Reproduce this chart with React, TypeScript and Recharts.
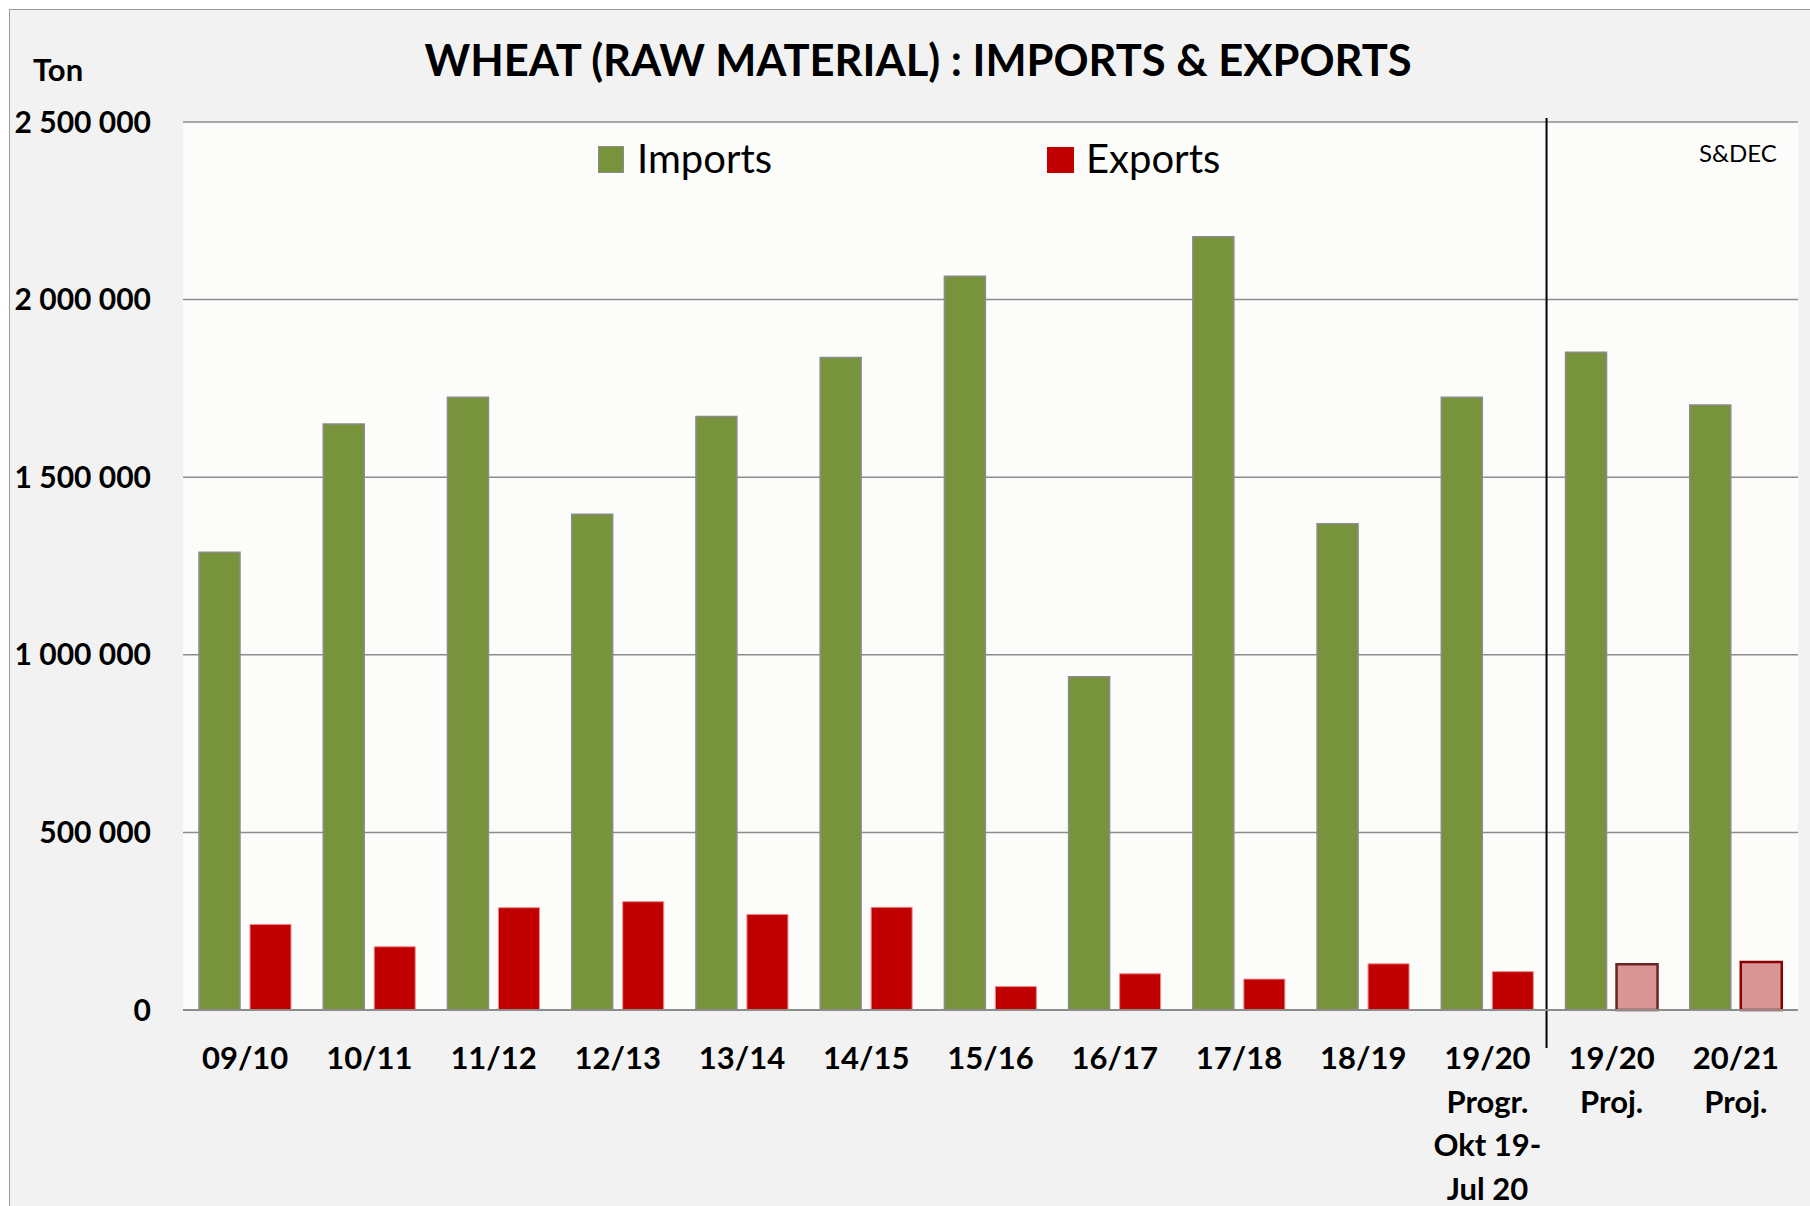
import React from "react";
import { BarChart, Bar, XAxis, YAxis, CartesianGrid, Cell, Legend, ReferenceLine } from "recharts";

const CATEGORIES = [
    '09/10', '10/11', '11/12', '12/13', '13/14', '14/15', '15/16', '16/17', '17/18', '18/19',
    '19/20\nProgr.\nOkt 19-\nJul 20', '19/20\nProj.', '20/21\nProj.',
];
const IMPORTS = [1289000, 1650000, 1725000, 1396000, 1671000, 1837000, 2066000, 938000, 2177000, 1369000, 1725000, 1852000, 1703000];
const EXPORTS = [241000, 178000, 288000, 305000, 269000, 289000, 66000, 102000, 87000, 130000, 108000, 129000, 135000];
// projections are drawn in a lighter red with a dark outline
const PROJECTED = [false, false, false, false, false, false, false, false, false, false, false, true, true];
const Y_TICKS = [0, 500000, 1000000, 1500000, 2000000, 2500000];

const FONT = "Lato, 'Open Sans', sans-serif";
const GREEN = '#77933c';
const RED = '#c00000';

const data = CATEGORIES.map((cat, i) => ({
    cat,
    imports: IMPORTS[i],
    exports: EXPORTS[i],
    projected: PROJECTED[i],
}));

const fmt = (v: number) => String(v).replace(/\B(?=(\d{3})+(?!\d))/g, ' ');

const XTick = ({ x, y, payload }: any) => {
    const lines = String(payload.value).split('\n');
    return (
        <text x={x} y={y} textAnchor="middle" fontFamily={FONT} fontWeight={700} fontSize={31} fill="#000">
            {lines.map((l, i) => (
                <tspan key={i} x={x} dy={i === 0 ? 59 : 43.5}>{l}</tspan>
            ))}
        </text>
    );
};

const LEGEND_SPOTS: Record<string, any> = {
    Imports: { box: { left: 598, top: 146, width: 26, height: 27 }, textLeft: 637, border: true },
    Exports: { box: { left: 1047, top: 147, width: 27, height: 26 }, textLeft: 1086, border: false },
};

const LegendContent = ({ payload }: any) => {
    return (
        <div style={{ position: 'relative', width: 1810, height: 200 }}>
            {(payload || []).map((entry: any, i: number) => {
                const s = LEGEND_SPOTS[entry.value];
                if (!s) return null;
                return (
                    <React.Fragment key={`legend-${i}`}>
                        <div
                            style={{
                                position: 'absolute',
                                ...s.box,
                                boxSizing: 'border-box',
                                background: entry.color,
                                border: s.border ? '1.5px solid #8c8c8c' : 'none',
                            }}
                        />
                        <span
                            style={{
                                position: 'absolute',
                                left: s.textLeft,
                                top: 138,
                                fontFamily: FONT,
                                fontSize: 40,
                                lineHeight: '40px',
                                color: '#000',
                                whiteSpace: 'nowrap',
                            }}
                        >
                            {entry.value}
                        </span>
                    </React.Fragment>
                );
            })}
        </div>
    );
};

const Divider = (p: any) => {
    const top = Math.min(p.y1, p.y2);
    const bottom = Math.max(p.y1, p.y2);
    return <line x1={p.x1 - 3} x2={p.x1 - 3} y1={top - 4} y2={bottom + 38} stroke="#000" strokeWidth={2} />;
};

export default function App() {
    return (
        <div style={{ position: 'absolute', left: 0, top: 0, width: 1810, height: 1206, background: '#fff', overflow: 'hidden' }}>
            <div
                style={{
                    position: 'absolute',
                    left: 9,
                    top: 9,
                    width: 1830,
                    height: 1230,
                    background: '#f2f2f2',
                    borderLeft: '1.5px solid #9a9a9a',
                    borderTop: '1.5px solid #9a9a9a',
                }}
            />
            <div style={{ position: 'absolute', left: 0, top: 0 }}>
                <BarChart
                    width={1810}
                    height={1206}
                    data={data}
                    margin={{ top: 122, right: 12, bottom: 0, left: 0 }}
                    barGap={10}
                    barSize={41}
                >
                    <CartesianGrid vertical={false} stroke="#8c8c8c" strokeWidth={1.5} fill="#fcfcfa" fillOpacity={1} />
                    <XAxis
                        dataKey="cat"
                        height={196}
                        interval={0}
                        tickLine={false}
                        tickSize={0}
                        tickMargin={0}
                        axisLine={{ stroke: '#8c8c8c', strokeWidth: 2 }}
                        tick={<XTick />}
                    />
                    <YAxis
                        width={183}
                        domain={[0, 2500000]}
                        ticks={Y_TICKS}
                        tickFormatter={fmt}
                        axisLine={false}
                        tickLine={false}
                        tickSize={0}
                        tickMargin={32}
                        tick={{ fontFamily: FONT, fontWeight: 700, fontSize: 30, fill: '#000' }}
                    />
                    <Legend
                        content={<LegendContent />}
                        verticalAlign="middle"
                        align="center"
                        wrapperStyle={{ position: 'absolute', left: 0, top: 0, width: 1810, height: 200 }}
                    />
                    <Bar dataKey="imports" name="Imports" fill={GREEN} stroke="#8c8c8c" strokeWidth={1.5} isAnimationActive={false} />
                    <Bar dataKey="exports" name="Exports" fill={RED} stroke="#ee8a8a" strokeWidth={1} isAnimationActive={false}>
                        {data.map((d, i) => (
                            <Cell
                                key={`cell-${i}`}
                                fill={d.projected ? '#d99694' : RED}
                                stroke={d.projected ? (i === 11 ? '#6b2424' : '#8b0000') : '#ee8a8a'}
                                strokeWidth={d.projected ? 2.5 : 1}
                            />
                        ))}
                    </Bar>
                    <ReferenceLine x={CATEGORIES[11]} position="start" ifOverflow="visible" shape={<Divider />} />
                </BarChart>
            </div>
            <svg width={1810} height={1206} style={{ position: 'absolute', left: 0, top: 0, pointerEvents: 'none' }}>
                <text x={918} y={76} textAnchor="middle" fontFamily={FONT} fontWeight={700} fontSize={43.5} fill="#000">
                    WHEAT (RAW MATERIAL) : IMPORTS &amp; EXPORTS
                </text>
                <text x={33} y={81} fontFamily={FONT} fontWeight={700} fontSize={31} fill="#000">Ton</text>
                <text x={1699} y={162} fontFamily={FONT} fontSize={24} fill="#000">S&amp;DEC</text>
            </svg>
        </div>
    );
}
